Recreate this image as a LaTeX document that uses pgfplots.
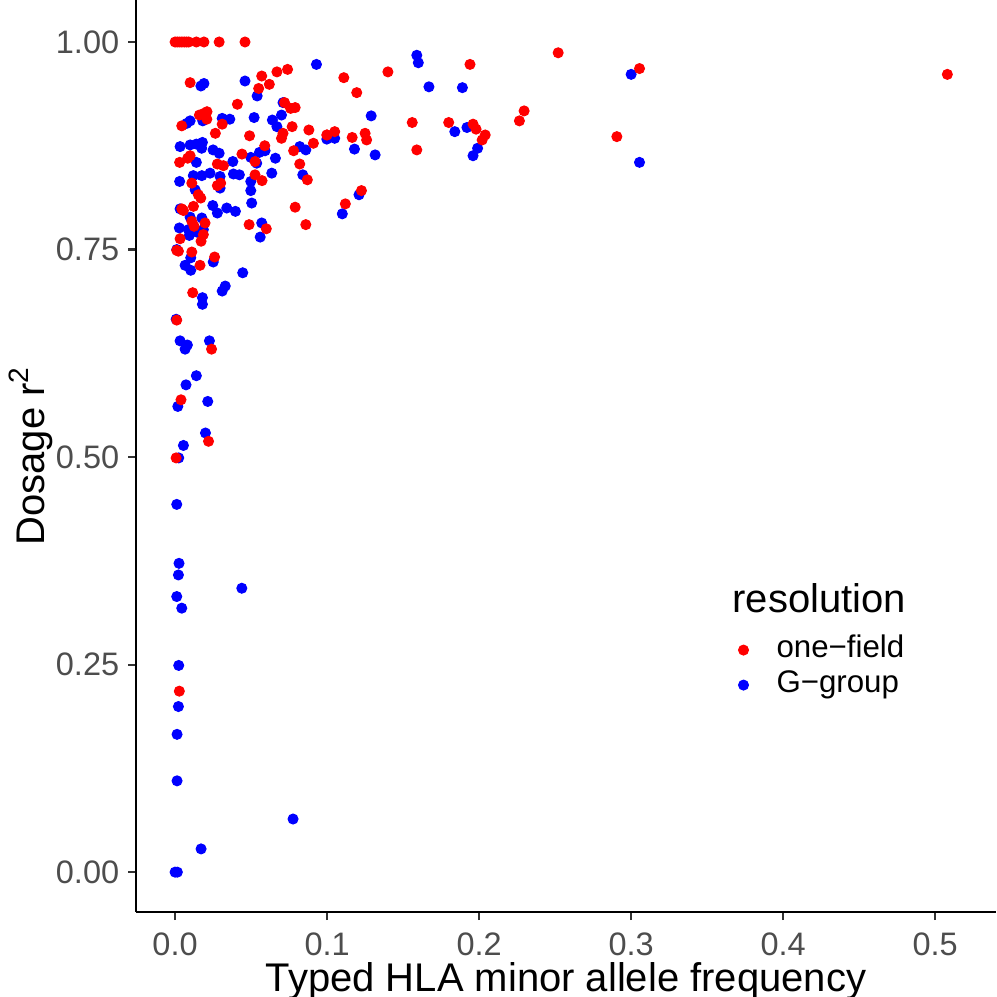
\documentclass[border=0pt]{standalone}
\usepackage{fontspec}
\setmainfont{Liberation Sans}
\usepackage{pgfplots}
\pgfplotsset{compat=1.18}
\definecolor{tickgray}{HTML}{4D4D4D}
\definecolor{ticklinegray}{HTML}{333333}
\begin{document}
\begin{tikzpicture}
\useasboundingbox (0,0) rectangle (398.8pt,398.8pt);
\begin{axis}[
  at={(54.4pt,34pt)}, anchor=south west,
  scale only axis, width=344pt, height=364.8pt,
  xmin=-0.0257, xmax=0.540, ymin=-0.048, ymax=1.0506,
  axis lines*=left,
  axis line style={black, line width=0.85pt},
  xtick={0,0.1,0.2,0.3,0.4,0.5},
  xticklabels={0.0,0.1,0.2,0.3,0.4,0.5},
  ytick={0,0.25,0.5,0.75,1},
  yticklabels={0.00,0.25,0.50,0.75,1.00},
  tick align=outside, major tick length=3.2pt,
  tick style={ticklinegray, line width=0.85pt},
  ticklabel style={font=\fontsize{13}{15}\selectfont, text=tickgray},
  xticklabel style={inner sep=0pt, yshift=-5.0pt},
  xlabel={Typed HLA minor allele frequency},
  ylabel={Dosage r\textsuperscript{2}},
  label style={font=\fontsize{16}{19}\selectfont},
  xlabel style={at={(axis description cs:0.5,-0.0755)}, anchor=center, inner sep=0pt},
  ylabel style={at={(axis description cs:-0.122,0.5)}, anchor=center, inner sep=0pt},
  legend image code/.code={\draw[#1] plot coordinates {(0pt,0pt)};},
  legend style={at={(axis description cs:0.6913,0.268)}, anchor=west,
    draw=none, fill=none, inner xsep=3pt, inner ysep=0pt, row sep=0pt,
    font=\fontsize{12.5}{15}\selectfont,
    nodes={inner sep=2pt, text height=8pt, text depth=2pt},
    /tikz/every odd column/.append style={column sep=9.2pt}},
  legend cell align=left,
  clip=false,
]
% G-group
\addplot[only marks, mark=*, mark size=2pt, draw=none, fill=blue, color=blue, forget plot] coordinates {
(0.017,0.947) (0.019,0.950) (0.046,0.953) (0.093,0.973) (0.054,0.935)
(0.071,0.927) (0.0099,0.905) (0.0182,0.905) (0.031,0.908) (0.036,0.907)
(0.0077,0.902) (0.052,0.909) (0.064,0.906) (0.070,0.912) (0.067,0.898)
(0.0998,0.883) (0.0033,0.874) (0.0099,0.876) (0.014,0.877) (0.018,0.879)
(0.0175,0.872) (0.014,0.855) (0.025,0.870) (0.029,0.866) (0.023,0.842)
(0.0296,0.838) (0.038,0.856) (0.0498,0.861) (0.0537,0.854) (0.0555,0.867)
(0.0592,0.869) (0.066,0.860) (0.082,0.874) (0.086,0.870) (0.084,0.840)
(0.003,0.832) (0.0120,0.839) (0.0176,0.839) (0.0384,0.841) (0.0423,0.840)
(0.0636,0.842) (0.0498,0.821) (0.0498,0.832) (0.0132,0.822) (0.0296,0.824)
(0.0504,0.806) (0.0248,0.803) (0.0278,0.794) (0.0340,0.800) (0.0397,0.796)
(0.0033,0.799) (0.057,0.782) (0.056,0.765) (0.0099,0.789) (0.0176,0.788)
(0.0028,0.776) (0.0088,0.774) (0.0143,0.771) (0.0186,0.774) (0.0094,0.767)
(0.0011,0.750) (0.0103,0.740) (0.0251,0.735) (0.0066,0.731) (0.0103,0.725)
(0.0445,0.722) (0.033,0.706) (0.031,0.700) (0.018,0.692) (0.018,0.684)
(0.0007,0.666) (0.0033,0.640) (0.0081,0.635) (0.0066,0.630) (0.0226,0.640)
(0.014,0.598) (0.0072,0.587) (0.0018,0.561) (0.0215,0.567) (0.020,0.529)
(0.0055,0.514) (0.0024,0.499) (0.0011,0.443) (0.0026,0.372) (0.0022,0.358)
(0.0011,0.332) (0.0044,0.318) (0.0439,0.342) (0.0024,0.249) (0.0022,0.1995)
(0.0013,0.166) (0.0013,0.110) (0.0776,0.064) (0.0171,0.028) (0.0000,0.000)
(0.0015,0.000)
(0.159,0.984) (0.160,0.975) (0.167,0.946) (0.189,0.945) (0.300,0.961)
(0.129,0.911) (0.184,0.892) (0.192,0.897) (0.199,0.872) (0.196,0.863)
(0.3055,0.855) (0.105,0.884) (0.118,0.871) (0.1316,0.864) (0.121,0.816)
(0.110,0.793)
};
% one-field
\addplot[only marks, mark=*, mark size=2pt, draw=none, fill=red, color=red, forget plot] coordinates {
(0.000,1.000) (0.0015,1.000) (0.003,1.000) (0.0045,1.000) (0.006,1.000)
(0.0075,1.000) (0.009,1.000) (0.014,1.000) (0.019,1.000) (0.029,1.000)
(0.046,1.000)
(0.0099,0.951) (0.057,0.959) (0.067,0.964) (0.074,0.967) (0.062,0.949)
(0.055,0.944) (0.041,0.925) (0.072,0.927) (0.076,0.920) (0.079,0.921)
(0.016,0.912) (0.019,0.914) (0.021,0.916) (0.0044,0.899) (0.0209,0.907)
(0.031,0.901) (0.077,0.898) (0.0265,0.890) (0.049,0.887) (0.071,0.890)
(0.070,0.884) (0.088,0.894) (0.0998,0.888) (0.091,0.878) (0.0099,0.863)
(0.0083,0.860) (0.003,0.855) (0.0278,0.853) (0.0318,0.851) (0.044,0.865)
(0.0526,0.856) (0.059,0.875) (0.078,0.869) (0.082,0.853) (0.087,0.834)
(0.0110,0.830) (0.0526,0.840) (0.0572,0.833) (0.0278,0.827) (0.030,0.830)
(0.0153,0.816) (0.0169,0.812) (0.0121,0.802) (0.0044,0.799) (0.0055,0.797)
(0.079,0.801) (0.086,0.780) (0.0110,0.784) (0.0125,0.778) (0.0197,0.782)
(0.0487,0.780) (0.060,0.775) (0.0186,0.768) (0.0171,0.760) (0.0033,0.763)
(0.0011,0.749) (0.0022,0.748) (0.011,0.747) (0.026,0.741) (0.0164,0.731)
(0.0116,0.698) (0.0011,0.665) (0.024,0.630) (0.0039,0.569) (0.022,0.519)
(0.0007,0.499) (0.0028,0.218)
(0.111,0.957) (0.140,0.964) (0.1195,0.939) (0.194,0.973) (0.252,0.987)
(0.3055,0.968) (0.2296,0.917) (0.2265,0.905) (0.156,0.903) (0.180,0.903)
(0.196,0.901) (0.198,0.895) (0.204,0.888) (0.202,0.882) (0.2906,0.886)
(0.159,0.870) (0.100,0.888) (0.105,0.892) (0.1165,0.885) (0.125,0.890)
(0.126,0.882) (0.1226,0.821) (0.112,0.805) (0.508,0.961)
};
\addlegendimage{only marks, mark=*, mark size=2pt, draw=none, fill=red, color=red}
\addlegendentry{one−field}
\addlegendimage{only marks, mark=*, mark size=2pt, draw=none, fill=blue, color=blue}
\addlegendentry{G−group}
\node[anchor=west, font=\fontsize{16}{19}\selectfont, inner sep=0pt]
  at (axis description cs:0.693,0.344) {resolution};
\end{axis}
\end{tikzpicture}
\end{document}
